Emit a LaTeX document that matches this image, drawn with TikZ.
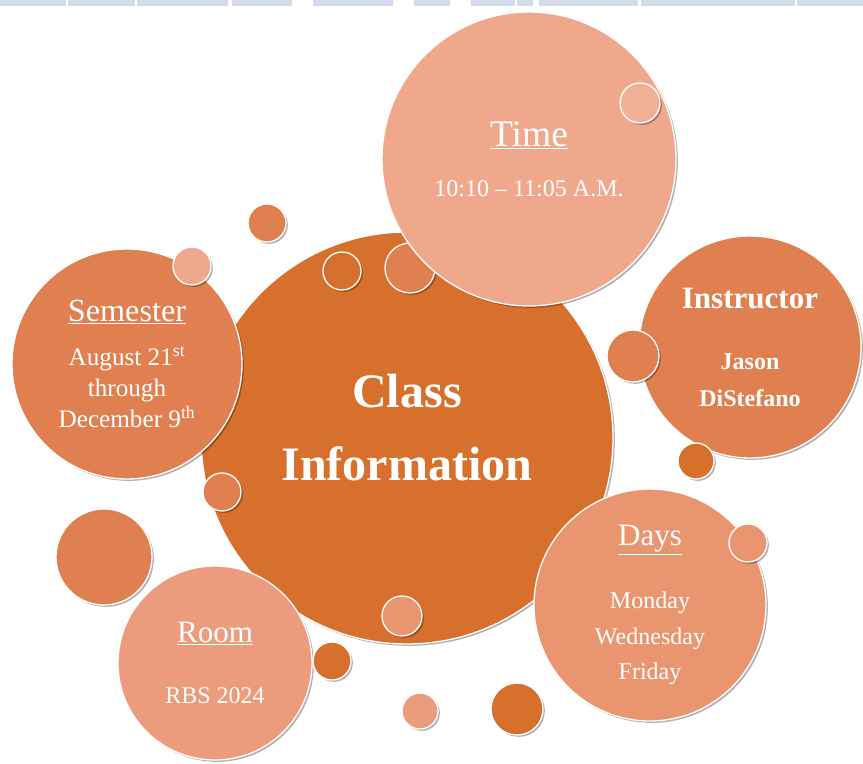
\documentclass[tikz,border=0pt]{standalone}
\usepackage{fontspec}
\setmainfont{Liberation Serif}
\usetikzlibrary{shadows}
\definecolor{dorange}{HTML}{D6702C}
\definecolor{morange}{HTML}{E08050}
\definecolor{lorange}{HTML}{EFA88B}
\definecolor{dayorange}{HTML}{E99670}
\definecolor{roomorange}{HTML}{EC9C7C}
\definecolor{hdrblue}{HTML}{D5DBEA}

\begin{document}
\begin{tikzpicture}[x=0.03cm, y=-0.03cm,
            bubble/.style={circle, draw = white, line width=1.1pt, inner sep=0pt, text = white, align=center,
                drop shadow={shadow xshift=1.6pt, shadow yshift=-1.6pt, opacity=.3, fill=black}},
            rad/.style={minimum size=#1*0.06cm}]
        \useasboundingbox (0,0) rectangle (863,764);
        \foreach \a/\b in {0/66,68/135,137/228,232/292,313/393,414/450,471/515,517/533,539/638,641/795,797/863}
            \fill[hdrblue] (\a,0) rectangle (\b,6);
        \node[bubble, rad=206, fill = dorange] (info) at (407,438) {};
        \node[text = white, align=center, font=\fontsize{41}{62.3}\selectfont\bfseries] (infotext) at (407,428) {Class\\Information};
        \node[bubble, rad=19, fill = dorange] (infoA) at (342,271) {};
        \node[bubble, rad=25, fill = morange] (infoB) at (410,268) {};
        \node[bubble, rad=19, fill = morange] (infoC) at (222,492) {};
        \node[bubble, rad=20, fill = dayorange] (infoD) at (402,616) {};
        \node[bubble, rad=147, fill = lorange, font=\fontsize{20.5}{25}\selectfont] (time) at (529,159)
            {\fontsize{32}{38}\selectfont\underline{Time}\\[18pt]10:10 -- 11:05 A.M.};
        \node[bubble, rad=20, fill = lorange!90!white] (timeA) at (640,103) {};
        \node[bubble, rad=115, fill = morange, font=\fontsize{21.5}{26.5}\selectfont] (semester) at (127,364)
            {\fontsize{27.5}{33}\selectfont\underline{Semester}\\[11pt]August 21\textsuperscript{st}\\through\\December 9\textsuperscript{th}};
        \node[bubble, rad=19, fill = lorange] (semesterA) at (192,266) {};
        \node[bubble, rad=19, fill = morange] (semesterB) at (267,223) {};
        \node[bubble, rad=111, fill = morange, font=\fontsize{20.5}{31.6}\selectfont\bfseries] (instructor) at (750,347)
            {\fontsize{26.5}{32}\selectfont Instructor\\[20.5pt]Jason\\DiStefano};
        \node[bubble, rad=26, fill = morange] (instructorA) at (633,356) {};
        \node[bubble, rad=18, fill = dorange] (instructorB) at (696,461) {};
        \node[bubble, rad=116, fill = dayorange, font=\fontsize{20.5}{30.3}\selectfont] (days) at (650,605)
            {\fontsize{26.5}{32}\selectfont\underline{Days}\\[23.5pt]Monday\\Wednesday\\Friday};
        \node[bubble, rad=19, fill = dayorange] (daysA) at (748,543) {};
        \node[bubble, rad=97, fill = roomorange, font=\fontsize{20.5}{25}\selectfont] (room) at (215,663)
            {\fontsize{26.5}{32}\selectfont\underline{Room}\\[27pt]RBS 2024};
        \node[bubble, rad=48, fill = morange] (roomA) at (104,557) {};
        \node[bubble, rad=19, fill = dorange] (roomB) at (332,661) {};
        \node[bubble, rad=18, fill = roomorange] (roomC) at (420,711) {};
        \node[bubble, rad=26, fill = dorange] (roomD) at (517,709) {};
    \end{tikzpicture}
\end{document}
